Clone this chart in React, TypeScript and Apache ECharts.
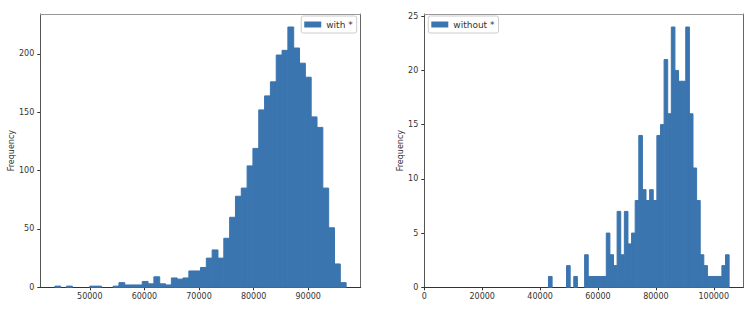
import React, { useEffect, useRef } from "react";
import * as echarts from "echarts";

// ---- data ----
const withName = "with *";
const withoutName = "without *";
const withCounts = [
  1, 0, 1, 0, 0, 0, 1, 1, 0, 0, 1, 4, 2, 2, 2, 5, 3, 9, 3, 2, 8, 7, 8, 14, 14,
  17, 25, 32, 25, 42, 60, 78, 85, 104, 119, 152, 164, 176, 199, 203, 223, 205,
  192, 180, 146, 137, 85, 51, 20, 4,
];
const withRange = [43600, 96950];
const withoutCounts = [
  1, 0, 0, 0, 0, 2, 0, 1, 0, 0, 3, 1, 1, 1, 1, 1, 5, 3, 2, 7, 3, 7, 4, 5, 8, 14,
  9, 8, 9, 8, 14, 15, 21, 16, 24, 20, 19, 19, 24, 16, 11, 8, 3, 2, 1, 1, 1, 1, 2,
  3,
];
const withoutRange = [42900, 105300];
const withoutXLimits = [0, 110200];
const withXTicks = [50000, 60000, 70000, 80000, 90000];
const withYTicks = [0, 50, 100, 150, 200];
const withoutXTicks = [0, 20000, 40000, 60000, 80000, 100000];
const withoutYTicks = [0, 5, 10, 15, 20, 25];

const BAR = "#3b75af";
const FONT = "DejaVu Sans";
const TXT = "#333";

function bins(counts: number[], range: number[]) {
  const w = (range[1] - range[0]) / counts.length;
  return counts.map((c, i) => [range[0] + i * w, range[0] + (i + 1) * w, c]);
}

const renderHist = (params: any, api: any) => {
  const c = api.value(2);
  if (!c) return null;
  const p0 = api.coord([api.value(0), c]);
  const p1 = api.coord([api.value(1), 0]);
  return {
    type: "rect",
    shape: { x: p0[0], y: p0[1], width: p1[0] - p0[0], height: p1[1] - p0[1] },
    style: { fill: BAR, stroke: BAR, lineWidth: 1 },
  };
};

const plain = (v: number) => String(v);

function mainX(grid: number, min: number, max: number, ticks: number[]) {
  return {
    type: "value",
    gridIndex: grid,
    min,
    max,
    splitLine: { show: false },
    axisLine: { show: true, onZero: false, lineStyle: { color: "#333", width: 1 } },
    axisTick: { show: true, length: 3, customValues: ticks, lineStyle: { color: "#333" } },
    axisLabel: {
      customValues: ticks,
      formatter: plain,
      fontSize: 8,
      fontFamily: FONT,
      color: TXT,
      margin: 5,
    },
  };
}
function mainY(grid: number, max: number, ticks: number[], gap: number) {
  return {
    type: "value",
    gridIndex: grid,
    min: 0,
    max,
    name: "Frequency",
    nameLocation: "middle",
    nameRotate: 90,
    nameGap: gap,
    nameTextStyle: { fontSize: 8, fontFamily: FONT, color: TXT },
    splitLine: { show: false },
    axisLine: { show: true, onZero: false, lineStyle: { color: "#555", width: 1 } },
    axisTick: { show: true, length: 3, customValues: ticks, lineStyle: { color: "#333" } },
    axisLabel: {
      customValues: ticks,
      formatter: plain,
      fontSize: 8,
      fontFamily: FONT,
      color: TXT,
      margin: 6,
    },
  };
}
function frameX(grid: number) {
  return {
    type: "value",
    gridIndex: grid,
    position: "top",
    min: 0,
    max: 1,
    splitLine: { show: false },
    axisLine: { show: true, onZero: false, lineStyle: { color: "#999", width: 1 } },
    axisTick: { show: false },
    axisLabel: { show: false },
  };
}
function frameY(grid: number) {
  return {
    type: "value",
    gridIndex: grid,
    position: "right",
    min: 0,
    max: 1,
    splitLine: { show: false },
    axisLine: { show: true, onZero: false, lineStyle: { color: "#666", width: 1 } },
    axisTick: { show: false },
    axisLabel: { show: false },
  };
}
function legend(name: string, pos: any) {
  return {
    data: [name],
    ...pos,
    top: 16,
    orient: "vertical",
    selectedMode: false,
    icon: "rect",
    itemWidth: 17,
    itemHeight: 6,
    padding: [4, 4, 4, 3],
    borderColor: "#ccc",
    borderWidth: 1,
    borderRadius: 2,
    backgroundColor: "rgba(255,255,255,0.8)",
    textStyle: { fontSize: 9, fontFamily: FONT, color: TXT },
  };
}

export default function App() {
  const ref = useRef<HTMLDivElement>(null);
  useEffect(() => {
    if (!ref.current) return;
    const chart = echarts.init(ref.current, undefined, { renderer: "svg" });
    const wSpan = withRange[1] - withRange[0];
    const withMax = Math.max(...withCounts) * 1.05;
    const withoutMax = Math.max(...withoutCounts) * 1.05;
    chart.setOption({
      animation: false,
      backgroundColor: "#fff",
      grid: [
        { left: 40.3, top: 14, width: 320.4, height: 273.3 },
        { left: 424.3, top: 14, width: 319, height: 273.3 },
      ],
      legend: [
        legend(withName, { right: 399.3 }),
        legend(withoutName, { left: 428.3 }),
      ],
      xAxis: [
        mainX(0, withRange[0] - 0.05 * wSpan, withRange[1] + 0.05 * wSpan, withXTicks),
        frameX(0),
        mainX(1, withoutXLimits[0], withoutXLimits[1], withoutXTicks),
        frameX(1),
      ],
      yAxis: [
        mainY(0, withMax, withYTicks, 24),
        frameY(0),
        mainY(1, withoutMax, withoutYTicks, 20),
        frameY(1),
      ],
      series: [
        {
          type: "custom",
          name: withName,
          xAxisIndex: 0,
          yAxisIndex: 0,
          itemStyle: { color: BAR },
          renderItem: renderHist,
          encode: { x: [0, 1], y: 2 },
          data: bins(withCounts, withRange),
        },
        {
          type: "custom",
          name: withoutName,
          xAxisIndex: 2,
          yAxisIndex: 2,
          itemStyle: { color: BAR },
          renderItem: renderHist,
          encode: { x: [0, 1], y: 2 },
          data: bins(withoutCounts, withoutRange),
        },
      ],
    });
    return () => chart.dispose();
  }, []);
  return (
    <div
      ref={ref}
      style={{ position: "fixed", left: 0, top: 0, width: 756, height: 316 }}
    />
  );
}
